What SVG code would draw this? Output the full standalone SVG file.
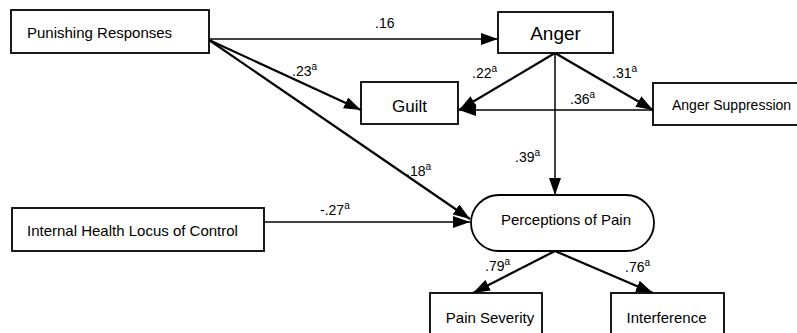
<svg xmlns="http://www.w3.org/2000/svg" width="797" height="333" viewBox="0 0 797 333">
<defs>
<style>
.box{fill:#fff;stroke:#000;stroke-width:1.8}
.t{font-family:"Liberation Sans",Arial,sans-serif;fill:#000}
.lab{font-family:"Liberation Sans",Arial,sans-serif;font-size:14px;fill:#000}
.sup{font-size:10px}
.e{fill:none;stroke:#000;stroke-width:2.2;marker-end:url(#ah)}
.thin{stroke-width:1.5}
</style>
<marker id="ah" markerUnits="userSpaceOnUse" markerWidth="18" markerHeight="12" refX="17" refY="6" orient="auto">
<path d="M0,0 L17,6 L0,12 z" fill="#000"/>
</marker>
</defs>
<rect width="797" height="333" fill="#fff"/>
<g id="connectors">
<path class="e thin" d="M209,39 L498,39"/>
<path class="e" d="M209,40 L361,110"/>
<path class="e" d="M209,40 L470,219"/>
<path class="e thin" d="M264,222 L470,222"/>
<path class="e" d="M555,53 L459,110"/>
<path class="e" d="M555,53 L653,110"/>
<path class="e thin" d="M653,110 L459,110"/>
<path class="e thin" d="M555,53 L555,195"/>
<path class="e" d="M555,251 L473,293"/>
<path class="e" d="M555,251 L653,293"/>
<text class="lab" x="375" y="28">.16</text>
<text class="lab" x="292" y="76">.23<tspan class="sup" dy="-6">a</tspan></text>
<text class="lab" x="406" y="176">.18<tspan class="sup" dy="-6">a</tspan></text>
<text class="lab" x="320" y="215">-.27<tspan class="sup" dy="-6">a</tspan></text>
<text class="lab" x="472" y="78">.22<tspan class="sup" dy="-6">a</tspan></text>
<text class="lab" x="612" y="78">.31<tspan class="sup" dy="-6">a</tspan></text>
<text class="lab" x="570" y="104">.36<tspan class="sup" dy="-6">a</tspan></text>
<text class="lab" x="515" y="162">.39<tspan class="sup" dy="-6">a</tspan></text>
<text class="lab" x="485" y="271">.79<tspan class="sup" dy="-6">a</tspan></text>
<text class="lab" x="625" y="272">.76<tspan class="sup" dy="-6">a</tspan></text>
</g>
<g id="punishing">
<rect class="box" x="11" y="10" width="198" height="43"/>
<text class="t" x="27" y="38" font-size="15">Punishing Responses</text>
</g>
<g id="anger">
<rect class="box" x="498" y="12" width="115" height="41"/>
<text class="t" x="555.5" y="40" font-size="19" text-anchor="middle">Anger</text>
</g>
<g id="guilt">
<rect class="box" x="361" y="82" width="97" height="42"/>
<text class="t" x="409.5" y="112" font-size="17" text-anchor="middle">Guilt</text>
</g>
<g id="angerSuppression">
<rect class="box" x="653" y="83" width="150" height="42"/>
<text class="t" x="672" y="110" font-size="14">Anger Suppression</text>
</g>
<g id="internalHealth">
<rect class="box" x="12" y="208" width="252" height="43"/>
<text class="t" x="27" y="236" font-size="15">Internal Health Locus of Control</text>
</g>
<g id="perceptions">
<rect class="box" x="471" y="195" width="183" height="56" rx="28" ry="28"/>
<text class="t" x="566" y="225" font-size="15" text-anchor="middle">Perceptions of Pain</text>
</g>
<g id="painSeverity">
<rect class="box" x="430" y="293" width="112" height="50"/>
<text class="t" x="490" y="323" font-size="15" text-anchor="middle">Pain Severity</text>
</g>
<g id="interference">
<rect class="box" x="611" y="293" width="113" height="50"/>
<text class="t" x="666.5" y="323" font-size="15" text-anchor="middle">Interference</text>
</g>
</svg>
